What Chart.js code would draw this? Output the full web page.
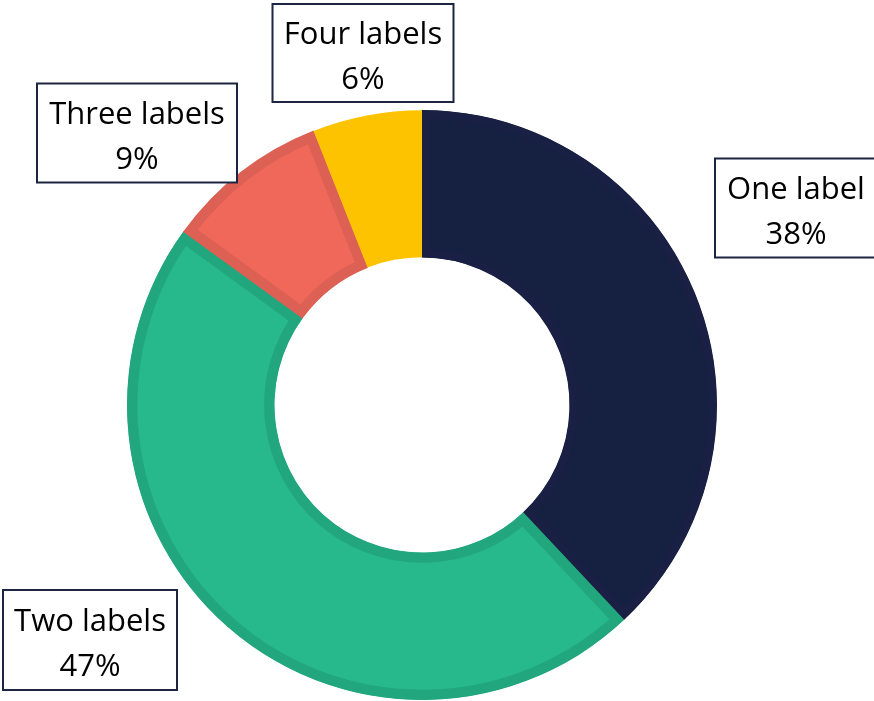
<!DOCTYPE html>
<html>
<head>
<meta charset="utf-8">
<script src="https://cdn.jsdelivr.net/npm/chart.js@4"></script>
<style>
  html, body { margin: 0; padding: 0; background: #ffffff; }
  canvas { display: block; }
</style>
</head>
<body>
<canvas id="labelChart" width="874" height="701"></canvas>
<script>
  // share of items by number of labels
  const categories = ['One label', 'Two labels', 'Three labels', 'Four labels'];
  const shares = [38, 47, 9, 6];

  const fillColors = ['#162141', '#27b98b', '#f0685a', '#fdc300'];
  const edgeColors = ['#192043', '#22a67d', '#dc6054', '#fdc300'];
  const edgeWidths = [8, 10, 10, 0];

  // callout boxes: centre x, centre y, width, height
  const calloutBoxes = [
    [796, 208, 162, 99],
    [90, 640, 174, 100],
    [137, 133, 200, 99],
    [363, 53, 181, 98]
  ];

  const calloutPlugin = {
    id: 'callouts',
    afterDraw(chart) {
      const ctx = chart.ctx;
      const values = chart.data.datasets[0].data;
      ctx.save();
      ctx.font = '31px "Open Sans", sans-serif';
      ctx.textAlign = 'center';
      ctx.textBaseline = 'middle';
      calloutBoxes.forEach(([cx, cy, w, h], i) => {
        ctx.fillStyle = '#ffffff';
        ctx.fillRect(cx - w / 2, cy - h / 2, w, h);
        ctx.lineWidth = 2;
        ctx.strokeStyle = '#1c2541';
        ctx.strokeRect(cx - w / 2, cy - h / 2, w, h);
        ctx.fillStyle = '#000000';
        ctx.fillText(chart.data.labels[i], cx, cy - 18);
        ctx.fillText(values[i] + '%', cx, cy + 27);
      });
      ctx.restore();
    }
  };

  new Chart(document.getElementById('labelChart'), {
    type: 'doughnut',
    data: {
      labels: categories,
      datasets: [
        {
          data: shares,
          backgroundColor: fillColors,
          borderColor: edgeColors,
          borderWidth: edgeWidths,
          borderAlign: 'inner',
          borderJoinStyle: 'miter'
        }
      ]
    },
    options: {
      responsive: false,
      animation: false,
      events: [],
      cutout: '50%',
      layout: {
        padding: { top: 110, bottom: 1, left: 0, right: 30 }
      },
      plugins: {
        legend: { display: false },
        tooltip: { enabled: false }
      }
    },
    plugins: [calloutPlugin]
  });
</script>
</body>
</html>
